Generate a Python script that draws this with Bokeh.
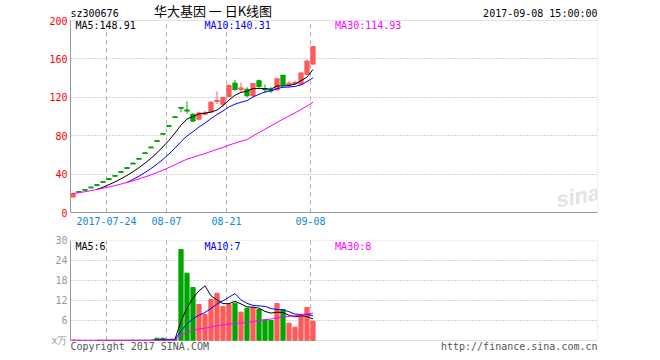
import numpy as np
import pandas as pd
from bokeh.plotting import figure
from bokeh.models import Range1d, FixedTicker, Label, ColumnDataSource, BoxAnnotation
from bokeh.layouts import column
from bokeh.transform import dodge
from bokeh.embed import file_html
from bokeh.resources import INLINE

# ---------------- data ----------------
dates = ["2017-07-14", "2017-07-17", "2017-07-18", "2017-07-19", "2017-07-20", "2017-07-21",
         "2017-07-24", "2017-07-25", "2017-07-26", "2017-07-27", "2017-07-28", "2017-07-31",
         "2017-08-01", "2017-08-02", "2017-08-03", "2017-08-04", "2017-08-07", "2017-08-08",
         "2017-08-09", "2017-08-10", "2017-08-11", "2017-08-14", "2017-08-15", "2017-08-16",
         "2017-08-17", "2017-08-18", "2017-08-21", "2017-08-22", "2017-08-23", "2017-08-24",
         "2017-08-25", "2017-08-28", "2017-08-29", "2017-08-30", "2017-08-31", "2017-09-01",
         "2017-09-04", "2017-09-05", "2017-09-06", "2017-09-07", "2017-09-08"]

opens = [16.37, 21.60, 23.76, 26.14, 28.75, 31.63, 34.79, 38.27, 42.10, 46.31, 50.94, 56.03,
         61.63, 67.79, 74.57, 82.03, 90.23, 99.25,
         109.18, 106.4, 102.0, 97.5, 102.5, 105.0, 116.0, 113.0, 121.0, 134.5, 128.5, 128.0,
         122.0, 137.0, 128.8, 127.8, 128.0, 142.7, 133.0, 134.5, 134.0, 144.3, 155.0]
highs = [19.64, 21.60, 23.76, 26.14, 28.75, 31.63, 34.79, 38.27, 42.10, 46.31, 50.94, 56.03,
         61.63, 67.79, 74.57, 82.03, 90.23, 99.25,
         109.18, 115.8, 103.4, 105.0, 106.0, 116.0, 126.0, 120.5, 133.5, 138.0, 135.5, 130.5,
         134.5, 138.5, 133.3, 130.5, 139.5, 143.2, 136.8, 137.5, 146.0, 159.4, 173.2]
lows = [16.37, 21.60, 23.76, 26.14, 28.75, 31.63, 34.79, 38.27, 42.10, 46.31, 50.94, 56.03,
        61.63, 67.79, 74.57, 82.03, 90.23, 99.25,
        104.5, 103.0, 94.5, 96.0, 101.0, 104.5, 113.0, 110.0, 120.0, 127.0, 124.5, 120.0,
        120.0, 129.5, 124.3, 124.3, 127.0, 132.0, 130.5, 133.0, 133.0, 143.5, 154.0]
closes = [19.64, 21.60, 23.76, 26.14, 28.75, 31.63, 34.79, 38.27, 42.10, 46.31, 50.94, 56.03,
          61.63, 67.79, 74.57, 82.03, 90.23, 99.25,
          109.18, 106.0, 95.5, 103.5, 103.5, 114.5, 116.5, 119.5, 132.0, 128.3, 129.5, 122.0,
          134.0, 131.5, 128.0, 127.0, 139.0, 133.0, 134.5, 135.2, 145.0, 157.35, 172.51]
volumes = [0.15, 0.03, 0.03, 0.03, 0.03, 0.03, 0.03, 0.03, 0.03, 0.03, 0.03, 0.03,
           0.03, 0.03, 0.7, 0.7, 0.2, 0.3,
           27.3, 20.2, 15.9, 10.8, 7.8, 12.3, 14.2, 10.2, 10.8, 11.2, 8.5, 9.7,
           9.9, 9.3, 6.2, 6.0, 11.1, 9.3, 5.2, 4.0, 7.5, 9.9, 5.8]

tick_dates = ["2017-07-24", "2017-08-07", "2017-08-21", "2017-09-08"]
tick_labels = ["2017-07-24", "08-07", "08-21", "09-08"]
price_ticks = [0, 40, 80, 120, 160, 200]
vol_ticks = [0, 6, 12, 18, 24, 30]
vol_unit = "x万"

code = "sz300676"
title = "华大基因 一 日K线图"
stamp = "2017-09-08 15:00:00"
ma_price_text = ["MA5:148.91", "MA10:140.31", "MA30:114.93"]
ma_vol_text = ["MA5:6", "MA10:7", "MA30:8"]
copyright_text = "Copyright 2017 SINA.COM"
url_text = "http://finance.sina.com.cn"

# ---------------- styles ----------------
RED = "#ff5a5a"
GREEN = "#00a600"
MA_COLORS = ["#000000", "#0000ff", "#ff00ff"]
GRIDC = "#aaaaaa"
BOXC = "#999999"
MONO = "DejaVu Sans Mono"
SLOTS = 527 / 6.0          # visible day slots (6 px each)
HALF = 2.5 / 6.0           # candle centre offset inside its slot
P_TOP = 212 / 0.96         # price frame reaches page top (header room)
V_BOT = -20 * 0.3          # volume frame reaches page bottom (footer room)

idx = np.arange(len(dates))
o = np.array(opens); c = np.array(closes)
colors = [RED if cc > oo else GREEN for oo, cc in zip(opens, closes)]
s_close = pd.Series(closes)
s_vol = pd.Series(volumes)
pma = [s_close.rolling(5).mean(), s_close.rolling(10).mean(), s_close.rolling(30, min_periods=1).mean()]
vma = [s_vol.rolling(5).mean(), s_vol.rolling(10).mean(), s_vol.rolling(30, min_periods=1).mean()]

src = ColumnDataSource(dict(
    i=idx, o=opens, h=highs, l=lows, c=closes,
    top=np.maximum(o, c), bot=np.minimum(o, c),
    color=colors, vol=volumes,
    ma5=pma[0].values, ma10=pma[1].values, ma30=pma[2].values,
    v5=vma[0].values, v10=vma[1].values, v30=vma[2].values,
))
X = dodge("i", HALF)
X0 = dodge("i", HALF - 0.4)
X1 = dodge("i", HALF + 0.4)
tick_pos = [dates.index(d) for d in tick_dates]


def style(p, ymax, ticks):
    p.outline_line_color = None
    p.background_fill_color = "white"
    p.border_fill_color = "white"
    p.xgrid.visible = False
    p.ygrid.ticker = FixedTicker(ticks=ticks[1:-1])
    p.ygrid.grid_line_color = GRIDC
    p.ygrid.grid_line_dash = "1 2"
    # vertical dashed date lines, limited to the chart box
    p.segment(x0=tick_pos, y0=0, x1=tick_pos, y1=ymax, line_color=GRIDC,
              line_dash="4 4", line_width=1)
    p.add_layout(BoxAnnotation(left=0, right=SLOTS, bottom=0, top=ymax, fill_alpha=0,
                               line_color=BOXC, line_width=1))
    ax = p.yaxis[0]
    ax.ticker = FixedTicker(ticks=ticks)
    ax.bounds = (0, ymax)
    ax.axis_line_color = BOXC
    ax.major_tick_line_color = None
    ax.minor_tick_line_color = None
    ax.major_tick_out = 0
    ax.minor_tick_out = 0
    ax.major_label_text_font = MONO
    ax.major_label_text_font_size = "10px"
    ax.major_label_standoff = 3


# ---------------- price panel ----------------
p1 = figure(width=660, height=230, x_range=Range1d(0, SLOTS), y_range=Range1d(0, P_TOP),
            output_backend="svg", toolbar_location=None,
            min_border_left=70, min_border_right=63, min_border_top=0, min_border_bottom=18)
style(p1, price_ticks[-1], price_ticks)
p1.yaxis.major_label_text_color = "#ff0000"
p1.xaxis.ticker = FixedTicker(ticks=tick_pos)
p1.xaxis.major_label_overrides = {t: lab for t, lab in zip(tick_pos, tick_labels)}
p1.xaxis.axis_line_color = BOXC
p1.xaxis.major_tick_line_color = None
p1.xaxis.minor_tick_line_color = None
p1.xaxis.major_tick_out = 0
p1.xaxis.minor_tick_out = 0
p1.xaxis.major_label_text_font = MONO
p1.xaxis.major_label_text_font_size = "10px"
p1.xaxis.major_label_text_color = "#0a8ad8"
p1.xaxis.major_label_standoff = 4

p1.segment(x0=X, y0="l", x1=X, y1="h", color="color", line_width=1, source=src)
p1.vbar(x=X, width=0.7, top="top", bottom="bot", fill_color="color", line_color="color",
        line_width=1, source=src)
p1.segment(x0=X0, y0="o", x1=X1, y1="o", color="color", line_width=1.5, source=src)
p1.segment(x0=X0, y0="c", x1=X1, y1="c", color="color", line_width=1.5, source=src)
for col, mc in zip(["ma5", "ma10", "ma30"], MA_COLORS):
    p1.line(x=X, y=col, line_color=mc, line_width=1, source=src)

# texts (px -> data:  x=(px-70)/6 , y=(212-py)/0.96)
p1.add_layout(Label(x=0, y=207.8, text=code, text_font=MONO, text_font_size="10px",
                    text_color="#000000", text_baseline="middle"))
p1.add_layout(Label(x=13.9, y=210.0, text=title, text_font="Noto Sans CJK SC",
                    text_font_size="13px", text_color="#000000", text_baseline="middle"))
p1.add_layout(Label(x=SLOTS, y=207.8, text=stamp, text_font=MONO, text_font_size="10px",
                    text_color="#000000", text_baseline="middle", text_align="right"))
for t, xx, mc in zip(ma_price_text, [0.83, 22.33, 44.1], MA_COLORS):
    p1.add_layout(Label(x=xx, y=195.3, text=t, text_font=MONO, text_font_size="10px",
                        text_color=mc, text_baseline="middle"))
p1.add_layout(Label(x=84.6, y=17.0, text="sina", text_font="Liberation Sans",
                    text_font_size="22px", text_font_style="bold italic", text_color="#e3e3e3",
                    text_align="center", text_baseline="middle", angle=0.18))

# ---------------- volume panel ----------------
p2 = figure(width=660, height=130, x_range=p1.x_range, y_range=Range1d(V_BOT, 30),
            output_backend="svg", toolbar_location=None,
            min_border_left=70, min_border_right=63, min_border_top=10, min_border_bottom=0)
style(p2, vol_ticks[-1], vol_ticks)
p2.xaxis.visible = False
p2.yaxis.major_label_text_color = "#999999"
p2.yaxis.major_label_overrides = {0: vol_unit}
p2.vbar(x=X, width=0.7, top="vol", bottom=0, fill_color="color", line_color="color",
        line_width=1, source=src)
for col, mc in zip(["v5", "v10", "v30"], MA_COLORS):
    p2.line(x=X, y=col, line_color=mc, line_width=1, source=src)

for t, xx, mc in zip(ma_vol_text, [0.83, 22.33, 44.1], MA_COLORS):
    p2.add_layout(Label(x=xx, y=28.35, text=t, text_font=MONO, text_font_size="10px",
                        text_color=mc, text_baseline="middle"))
p2.add_layout(Label(x=0, y=-1.9, text=copyright_text, text_font=MONO,
                    text_font_size="10px", text_color="#555555", text_baseline="middle"))
p2.add_layout(Label(x=SLOTS, y=-1.9, text=url_text, text_font=MONO,
                    text_font_size="10px", text_color="#555555", text_baseline="middle",
                    text_align="right"))

layout = column(p1, p2, spacing=0)
open("out.html", "w").write(file_html(layout, INLINE))
